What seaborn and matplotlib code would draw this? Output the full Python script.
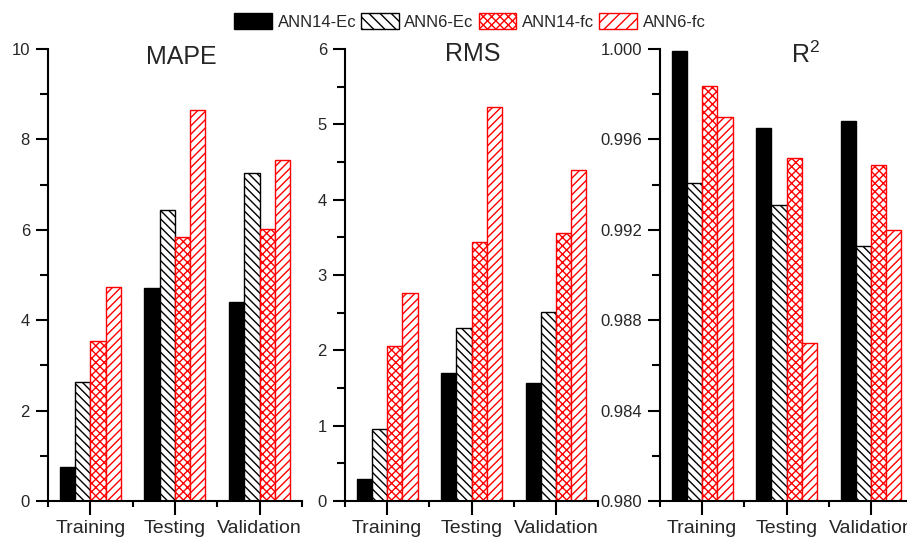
import numpy as np
import pandas as pd
import matplotlib
matplotlib.use('Agg')
import matplotlib.pyplot as plt
from matplotlib.patches import Patch
import seaborn as sns

# values
phases = ['Training', 'Testing', 'Validation']
models = ['ANN14-Ec', 'ANN6-Ec', 'ANN14-fc', 'ANN6-fc']

# rows follow the order of models, columns follow phases
mape_values = [[0.75, 4.72, 4.40],
               [2.64, 6.43, 7.26],
               [3.53, 5.85, 6.02],
               [4.73, 8.66, 7.55]]
rms_values = [[0.29, 1.70, 1.56],
              [0.96, 2.30, 2.51],
              [2.06, 3.44, 3.56],
              [2.76, 5.23, 4.40]]
r2_values = [[0.9999, 0.99649, 0.99680],
             [0.99409, 0.99308, 0.99128],
             [0.99838, 0.99519, 0.99488],
             [0.99698, 0.98698, 0.99198]]

sns.set_style('ticks')
plt.rcParams['font.family'] = ['Liberation Sans', 'DejaVu Sans']
plt.rcParams['mathtext.default'] = 'regular'
plt.rcParams['hatch.linewidth'] = 1.0

styles = {
    'ANN14-Ec': dict(facecolor='black', edgecolor='black', hatch=None),
    'ANN6-Ec': dict(facecolor='white', edgecolor='black', hatch='\\\\\\\\'),
    'ANN14-fc': dict(facecolor='white', edgecolor='red', hatch='xxxx'),
    'ANN6-fc': dict(facecolor='white', edgecolor='red', hatch='////'),
}

fig = plt.figure(figsize=(9.07, 5.38), dpi=100)
ax1 = fig.add_axes([0.0529, 0.0688, 0.280, 0.840])
ax2 = fig.add_axes([0.3804, 0.0688, 0.279, 0.840])
ax3 = fig.add_axes([0.7277, 0.0688, 0.279, 0.840])

panels = [
    (ax1, mape_values, 'MAPE', (0, 10), np.arange(0, 11, 2), np.arange(1, 10, 2), '%g', 0.526, 0.982),
    (ax2, rms_values, 'RMS', (0, 6), np.arange(0, 7, 1), np.arange(0.5, 6, 1), '%g', 0.506, 0.988),
    (ax3, r2_values, 'R$^2$', (0.98, 1.0), np.arange(0.980, 1.0001, 0.004),
     np.arange(0.982, 1.0, 0.004), '%.3f', 0.577, 0.988),
]

for ax, vals, title, ylim, major, minor, fmt, tx, ty in panels:
    df = pd.DataFrame({
        'phase': np.tile(phases, len(models)),
        'model': np.repeat(models, len(phases)),
        'value': np.ravel(vals),
    })
    sns.barplot(data=df, x='phase', y='value', hue='model', order=phases,
                hue_order=models, width=0.72, errorbar=None, legend=False, ax=ax)
    for container, model in zip(ax.containers, models):
        st = styles[model]
        for bar in container:
            bar.set_facecolor(st['facecolor'])
            bar.set_edgecolor(st['edgecolor'])
            bar.set_hatch(st['hatch'])
            bar.set_linewidth(1.0)

    ax.set_ylim(*ylim)
    ax.set_xlim(-0.5, 2.5)
    ax.set_yticks(major)
    ax.set_yticks(minor, minor=True)
    ax.set_yticklabels([fmt % v for v in major])
    ax.set_xticks([-0.5, 0.5, 1.5, 2.5], minor=True)
    ax.set_xlabel('')
    ax.set_ylabel('')
    sns.despine(ax=ax)
    for side in ['left', 'bottom']:
        ax.spines[side].set_linewidth(1.5)
        ax.spines[side].set_color('black')
    ax.tick_params(axis='y', which='major', direction='out', length=9, width=1.5,
                   labelsize=12, pad=4, color='black')
    ax.tick_params(axis='y', which='minor', direction='out', length=6, width=1.5, color='black')
    ax.tick_params(axis='x', which='major', direction='out', length=10, width=1.5,
                   labelsize=14, pad=4, color='black')
    ax.tick_params(axis='x', which='minor', direction='out', length=4, width=1.5, color='black')
    ax.text(tx, ty, title, transform=ax.transAxes, ha='center', va='center', fontsize=18)

legend_hatches = [None, '\\\\\\', 'xxxx', '///']
handles = [Patch(facecolor=styles[m]['facecolor'], edgecolor=styles[m]['edgecolor'],
                 hatch=h, linewidth=1.0)
           for m, h in zip(models, legend_hatches)]
fig.legend(handles, models, loc='center', bbox_to_anchor=(0.518, 0.96), ncol=4,
           frameon=False, fontsize=12, handlelength=2.26, handleheight=1.1,
           handletextpad=0.34, columnspacing=0.3, borderaxespad=0)

fig.savefig('out.png', dpi=100)
plt.close(fig)
